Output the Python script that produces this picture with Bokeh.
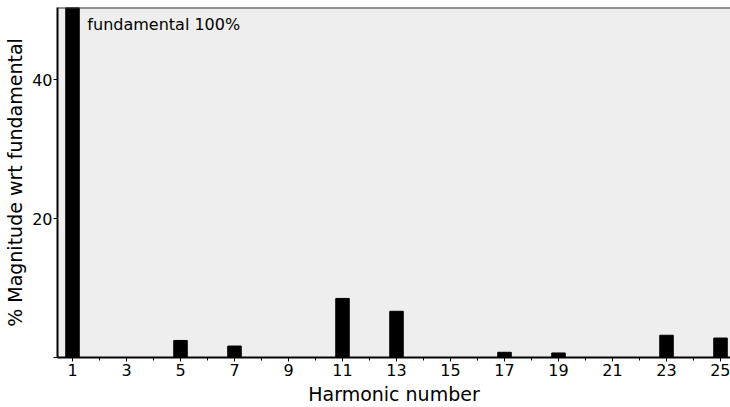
from bokeh.plotting import figure
from bokeh.models import ColumnDataSource, FixedTicker, Label, Span, Range1d
from bokeh.embed import file_html
from bokeh.resources import INLINE

harmonics = [1, 5, 7, 11, 13, 17, 19, 23, 25]
magnitude = [100, 2.45, 1.65, 8.5, 6.65, 0.75, 0.65, 3.2, 2.8]
x_tick_labels = [1, 3, 5, 7, 9, 11, 13, 15, 17, 19, 21, 23, 25]
x_minor = [2, 4, 6, 8, 10, 12, 14, 16, 18, 20, 22, 24]
y_ticks = [0, 20, 40]
annotation = "fundamental 100%"

FONT = "DejaVu Sans"

src = ColumnDataSource(dict(x=harmonics, top=magnitude))

p = figure(width=730, height=407, output_backend="svg", toolbar_location=None,
           x_range=Range1d(0.444, 25.37), y_range=Range1d(0, 50.36),
           min_border_left=57, min_border_right=0, min_border_top=7, min_border_bottom=50)
p.background_fill_color = "#eeeeee"
p.border_fill_color = "white"
p.outline_line_color = None
p.grid.visible = False

p.vbar(x="x", top="top", width=0.5, bottom=0, source=src,
       fill_color="black", line_color="black")

p.add_layout(Span(location=p.y_range.end, dimension="width",
                  line_color="#333333", line_width=2))

p.xaxis.ticker = FixedTicker(ticks=x_tick_labels, minor_ticks=x_minor)
p.yaxis.ticker = FixedTicker(ticks=y_ticks, minor_ticks=[])
p.yaxis.major_label_overrides = {0: ""}

for ax in (p.xaxis, p.yaxis):
    ax.axis_line_color = "black"
    ax.axis_line_width = 2
    ax.major_tick_in = 0
    ax.major_tick_out = 4
    ax.minor_tick_in = 0
    ax.minor_tick_out = 3
    ax.major_tick_line_color = "black"
    ax.minor_tick_line_color = "black"
    ax.major_label_text_font = FONT
    ax.major_label_text_font_size = "16px"
    ax.major_label_text_color = "black"
    ax.axis_label_text_font = FONT
    ax.axis_label_text_font_size = "19px"
    ax.axis_label_text_font_style = "normal"
    ax.axis_label_text_color = "black"

p.yaxis.major_label_standoff = 1
p.xaxis.major_label_standoff = 2
p.xaxis.axis_label = "Harmonic number"
p.yaxis.axis_label = "% Magnitude wrt fundamental"
p.xaxis.axis_label_standoff = 4
p.yaxis.axis_label_standoff = 3

p.add_layout(Label(x=harmonics[0] + 0.55, y=47.9, text=annotation,
                   text_font=FONT, text_font_size="16px", text_color="black",
                   text_baseline="middle", text_align="left"))

open("out.html", "w").write(file_html(p, INLINE))
